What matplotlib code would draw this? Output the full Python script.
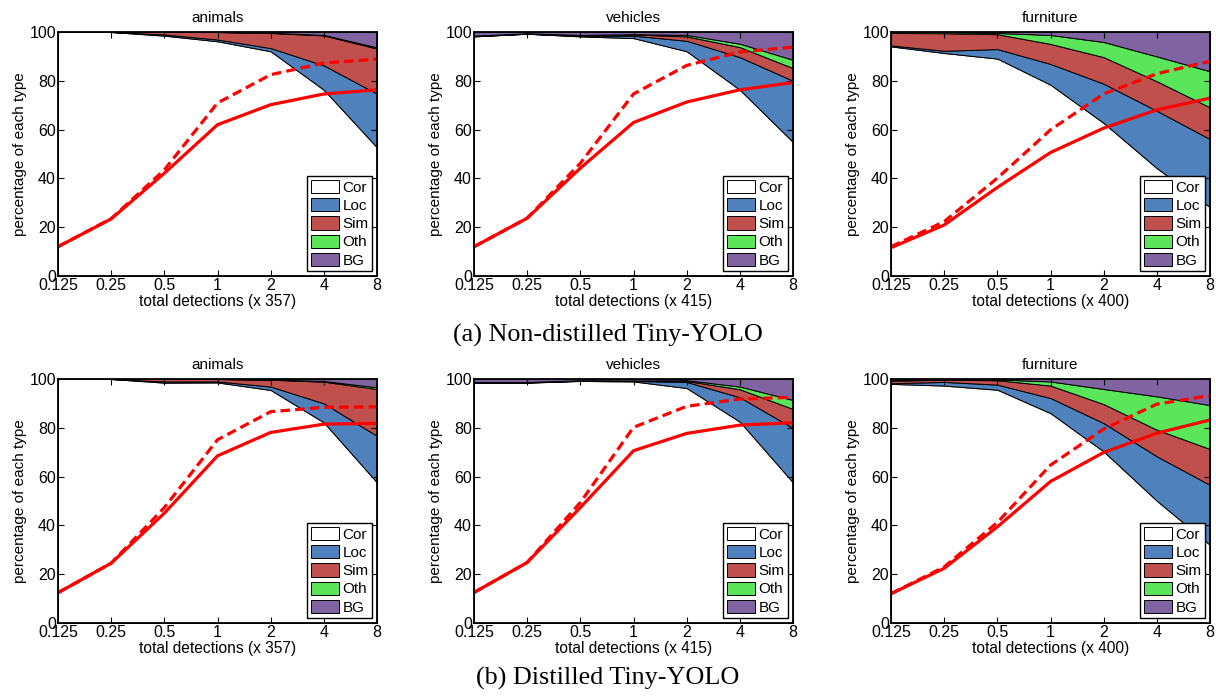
import numpy as np
import matplotlib
matplotlib.use("Agg")
import matplotlib.pyplot as plt
from matplotlib.patches import Patch

plt.rcParams['font.family'] = ['Liberation Sans', 'DejaVu Sans']

# x positions (multiples of the number of objects)
xs = [0.125, 0.25, 0.5, 1, 2, 4, 8]
xticklabels = ['0.125', '0.25', '0.5', '1', '2', '4', '8']
titles = ['animals', 'vehicles', 'furniture']
counts = [357, 415, 400]
captions = ['(a) Non-distilled Tiny-YOLO', '(b) Distilled Tiny-YOLO']
types = ['Cor', 'Loc', 'Sim', 'Oth', 'BG']
colors = ['#ffffff', '#4f81bd', '#c0504d', '#5be55b', '#8064a2']

# cumulative upper boundaries of Cor, Loc, Sim, Oth (BG fills to 100)
# row 0: non-distilled
cor_a = [[100, 100, 98.5, 96.2, 92.1, 76.3, 52.7],
         [98.2, 99.3, 98.2, 97.5, 92.1, 76.3, 54.9],
         [94.1, 91.4, 89.1, 78.4, 62.7, 44.2, 28.2]]
loc_a = [[100, 100, 99.0, 96.9, 93.4, 86.3, 74.7],
         [98.3, 99.3, 98.4, 98.5, 96.4, 89.7, 80.0],
         [94.5, 92.3, 93.0, 86.9, 78.8, 67.7, 56.1]]
sim_a = [[100, 100, 100, 100, 99.6, 98.6, 93.2],
         [98.4, 99.4, 98.6, 99.0, 98.2, 93.8, 85.2],
         [99.6, 99.5, 99.1, 95.1, 89.7, 79.8, 69.1]]
oth_a = [[100, 100, 100, 100, 99.7, 98.8, 93.7],
         [98.5, 99.5, 98.8, 99.1, 98.8, 95.2, 88.6],
         [100, 100, 99.6, 98.8, 95.9, 90.0, 83.9]]
solid_a = [[12.0, 23.4, 42.1, 62.0, 70.2, 74.6, 76.3],
           [12.0, 23.7, 44.2, 62.9, 71.3, 76.3, 79.3],
           [11.6, 20.9, 36.3, 50.6, 60.6, 68.1, 72.9]]
dash_a = [[12.0, 23.5, 43.5, 70.9, 82.5, 87.3, 88.9],
          [12.0, 23.7, 46.2, 74.6, 86.3, 91.8, 93.8],
          [12.0, 22.3, 40.1, 59.9, 74.6, 82.9, 88.0]]

# row 1: distilled
cor_b = [[100, 100, 98.5, 98.6, 95.5, 82.2, 57.6],
         [98.4, 98.5, 99.2, 99.0, 96.3, 82.5, 57.6],
         [98.0, 97.3, 95.6, 86.0, 70.3, 50.1, 32.0]]
loc_b = [[100, 100, 99.0, 99.0, 96.9, 90.0, 76.7],
         [98.6, 98.6, 99.3, 99.2, 98.8, 92.5, 79.9],
         [98.3, 98.8, 97.7, 92.2, 81.9, 68.3, 56.6]]
sim_b = [[100, 100, 100, 100, 99.7, 98.9, 95.9],
         [98.7, 98.7, 99.4, 99.3, 99.2, 95.8, 87.7],
         [99.3, 99.7, 99.5, 97.3, 89.7, 79.2, 71.3]]
oth_b = [[100, 100, 100, 100, 99.8, 99.2, 96.6],
         [98.8, 98.8, 99.5, 99.4, 99.5, 96.9, 91.4],
         [99.6, 99.9, 99.8, 99.0, 95.9, 92.9, 89.3]]
solid_b = [[12.4, 24.5, 45.0, 68.5, 78.1, 81.5, 81.8],
           [12.5, 24.8, 47.3, 70.6, 77.7, 81.1, 82.1],
           [12.0, 22.4, 39.4, 58.0, 69.9, 77.8, 83.2]]
dash_b = [[12.4, 24.5, 47.3, 75.1, 86.6, 88.4, 88.6],
          [12.5, 24.8, 49.4, 80.2, 88.8, 91.8, 92.5],
          [12.0, 23.0, 41.2, 64.7, 79.5, 89.7, 93.2]]

rows = [(cor_a, loc_a, sim_a, oth_a, solid_a, dash_a),
        (cor_b, loc_b, sim_b, oth_b, solid_b, dash_b)]

fig = plt.figure(figsize=(12.16, 6.96), dpi=100)

lefts = [58, 474, 891]
tops = [32, 379]
W, H = 319, 244

for r, (cor, loc, sim, oth, solid, dash) in enumerate(rows):
    for c in range(3):
        ax = fig.add_axes([lefts[c] / 1216, 1 - (tops[r] + H) / 696, W / 1216, H / 696])
        bounds = [np.zeros(len(xs)), np.array(cor[c]), np.array(loc[c]),
                  np.array(sim[c]), np.array(oth[c]), np.full(len(xs), 100.0)]
        for k in range(5):
            ax.fill_between(xs, bounds[k], bounds[k + 1], facecolor=colors[k],
                            edgecolor='black', linewidth=0.7)
        ax.plot(xs, solid[c], color='red', linewidth=2.3)
        ax.plot(xs, dash[c], color='red', linewidth=2.3, linestyle=(0, (3, 1.6)))
        ax.set_xscale('log', base=2)
        ax.set_xlim(0.125, 8)
        ax.set_ylim(0, 100)
        ax.set_xticks(xs)
        ax.set_xticklabels(xticklabels)
        ax.minorticks_off()
        ax.set_yticks([0, 20, 40, 60, 80, 100])
        ax.tick_params(direction='in', top=True, right=True, labelsize=11.5,
                       length=4, width=0.8, pad=1.5)
        for s in ax.spines.values():
            s.set_linewidth(1.3)
        ax.set_title(titles[c], fontsize=11, pad=7)
        ax.set_xlabel('total detections (x %d)' % counts[c], fontsize=11.2, labelpad=1)
        ax.set_ylabel('percentage of each type', fontsize=11, labelpad=2)
        handles = [Patch(facecolor=colors[k], edgecolor='black', linewidth=0.7,
                         label=types[k]) for k in range(5)]
        leg = ax.legend(handles=handles, loc='lower right', fontsize=11,
                        handlelength=1.85, handleheight=0.95, handletextpad=0.2,
                        labelspacing=0.22, borderpad=0.25, borderaxespad=0.3,
                        fancybox=False, framealpha=1, edgecolor='black')
        leg.get_frame().set_linewidth(1.0)

fig.text(0.5, 1 - 335 / 696, captions[0], ha='center', va='center',
         fontsize=18.8, family='Liberation Serif')
fig.text(0.5, 1 - 678 / 696, captions[1], ha='center', va='center',
         fontsize=18.8, family='Liberation Serif')

fig.savefig('out.png', dpi=100)
